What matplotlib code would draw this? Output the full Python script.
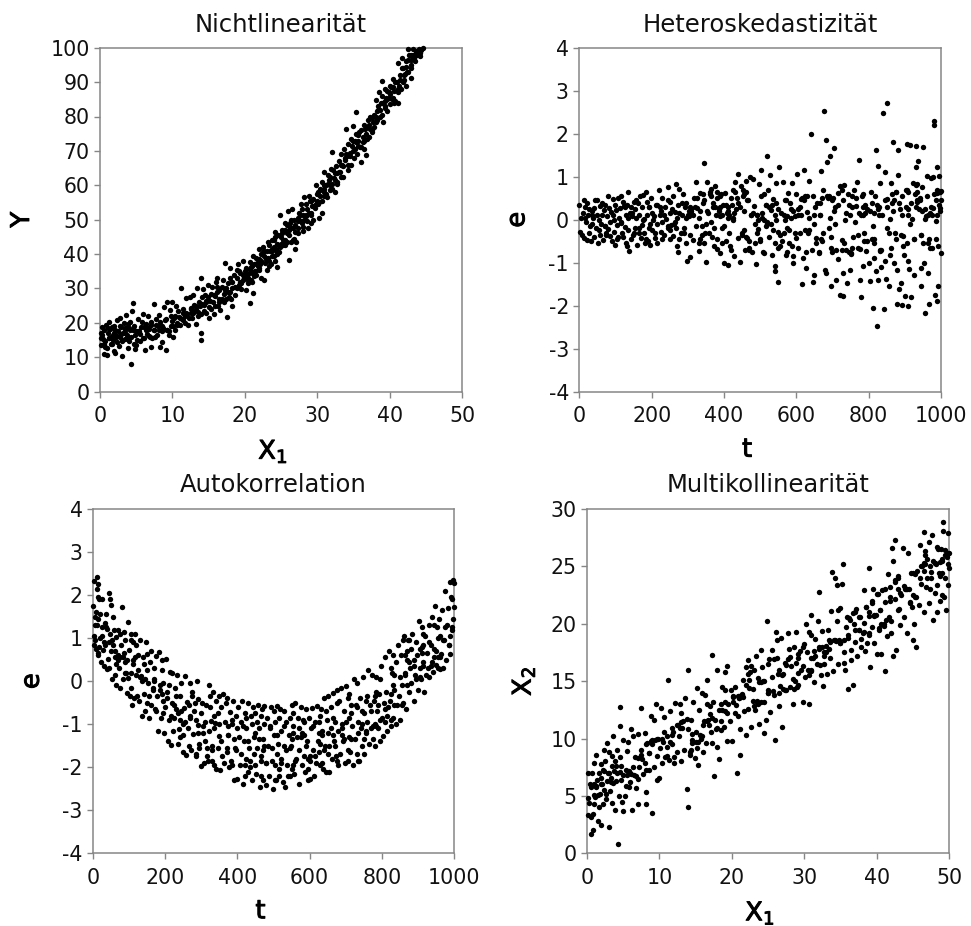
import matplotlib
matplotlib.use("Agg")
import matplotlib.pyplot as plt
import matplotlib.patheffects as pe

W, H = 971, 926
GRAY = "#868686"

# Nichtlinearitaet
nl_x = [0.1,0.2,0.3,0.4,0.5,0.6,0.7,0.8,0.9,1.0,1.1,1.2,1.3,1.4,1.5,
        1.6,1.7,1.8,1.9,2.0,2.1,2.2,2.3,2.4,2.5,2.6,2.7,2.8,2.9,3.0,
        3.1,3.2,3.3,3.4,3.5,3.6,3.7,3.8,3.9,4.0,4.1,4.2,4.3,4.4,4.5,
        4.6,4.7,4.8,4.9,5.0,5.2,5.4,5.5,5.7,5.8,6.0,6.1,6.2,6.4,6.5,
        6.6,6.8,7.0,7.1,7.2,7.4,7.5,7.6,7.8,8.0,8.2,8.3,8.5,8.6,8.8,
        9.0,9.1,9.2,9.3,9.5,9.6,9.8,10.0,10.1,10.2,10.3,10.5,10.6,10.8,11.0,
        11.2,11.3,11.5,11.7,11.9,12.0,12.2,12.4,12.5,12.7,12.9,13.0,13.2,13.4,13.5,
        13.7,13.9,13.9,13.9,14.0,14.2,14.4,14.5,14.7,14.9,15.0,15.2,15.3,15.5,15.7,
        15.9,16.0,16.2,16.3,16.5,16.6,16.8,17.0,17.1,17.3,17.4,17.6,17.7,17.9,18.0,
        18.2,18.3,18.5,18.7,18.9,19.0,19.2,19.4,19.5,19.7,19.9,20.0,20.2,20.4,20.5,
        20.7,20.7,20.9,21.0,21.1,21.2,21.4,21.5,21.7,21.9,22.0,22.2,22.3,22.5,22.7,
        22.9,23.0,23.2,23.4,23.5,23.6,23.8,24.0,24.1,24.2,24.4,24.5,24.7,24.8,25.0,
        25.1,25.3,25.5,25.6,25.8,26.0,26.1,26.3,26.5,26.6,26.8,27.0,27.1,27.3,27.5,
        27.7,27.9,28.0,28.2,28.4,28.6,28.7,28.9,29.1,29.2,29.4,29.6,29.8,30.0,30.1,
        30.3,30.4,30.6,30.7,30.9,31.0,31.2,31.4,31.5,31.7,31.9,32.0,32.1,32.3,32.5,
        32.6,32.8,33.0,33.2,33.3,33.5,33.7,33.9,34.0,34.2,34.3,34.5,34.7,34.9,35.0,
        35.2,35.3,35.4,35.5,35.7,35.9,36.0,36.1,36.3,36.5,36.7,36.8,37.0,37.2,37.3,
        37.5,37.7,37.9,38.1,38.2,38.4,38.5,38.7,38.9,39.0,39.1,39.3,39.4,39.5,39.7,
        39.9,40.0,40.1,40.3,40.5,40.6,40.8,41.0,41.1,41.2,41.4,41.6,41.7,41.9,42.0,
        42.2,42.3,42.5,42.6,42.7,42.9,43.0,43.2,43.4,43.6,43.8,44.0,44.2,44.4,44.6,
        0.3,0.7,1.1,1.5,1.9,2.3,2.7,3.1,3.5,3.9,4.3,4.7,5.1,5.5,5.9,
        6.3,6.7,7.1,7.5,7.9,8.3,8.7,9.1,9.5,9.9,10.3,10.7,11.1,11.5,11.9,
        12.3,12.6,12.9,13.2,13.5,13.8,14.1,14.4,14.7,15.0,15.3,15.6,15.9,16.2,16.5,
        16.8,17.1,17.4,17.7,18.0,18.3,18.6,18.9,19.2,19.5,19.8,20.1,20.4,20.7,21.0,
        21.3,21.6,21.9,22.2,22.5,22.8,23.1,23.4,23.7,24.0,24.3,24.6,24.9,25.2,25.5,
        25.8,26.1,26.4,26.7,27.0,27.3,27.6,27.9,28.2,28.5,28.8,29.1,29.4,29.7,30.0,
        30.3,30.6,30.9,31.2,31.5,31.8,32.1,32.4,32.7,33.0,33.3,33.6,33.9,34.2,34.5,
        34.8,35.1,35.4,35.7,36.0,36.3,36.6,36.9,37.2,37.5,37.8,38.1,38.4,38.7,39.0,
        39.3,39.6,39.9,40.2,40.5,40.8,41.1,41.4,41.7,42.0,42.3,42.6,42.9,43.2,43.5,
        0.5,1.3,2.1,2.9,3.7,4.5,5.3,6.1,6.9,7.7,8.5,9.3,10.1,10.9,11.7,
        12.5,13.3,14.1,14.9,15.7,16.5,17.3,18.1,18.9,19.7,20.5,21.3,22.1,22.9,23.7,
        24.5,25.3,26.1,26.9,27.7,28.5,29.3,30.1,30.9,31.7,32.5,33.3,34.1,34.9,35.7,
        36.5,37.3,38.1,38.9,39.7,40.5,41.3,42.1,42.9,20.2,21.8,23.3,24.2,26.4,28.1,
        20.8,21.4,22.0,22.6,23.2,23.8,24.4,25.0,25.6,26.2,26.8,27.4,28.0,28.6,29.2,
        29.8,30.4,31.0,31.6,32.2,32.8,33.4,34.0,34.6,35.2,35.8,36.4,37.0,37.6,38.2,
        38.8,39.4,40.0,40.6,41.2,41.8,42.4,43.0,43.6,44.2,0.2,1.8,3.4,5.0,6.6,
        8.2,9.8,11.4,13.0,14.6,16.2,17.8,19.4,21.0,22.6,24.2,25.8,27.4,29.0,30.6]
nl_y = [13.5,15.5,18.8,15.2,11.0,17.8,13.0,19.5,10.8,12.8,17.0,20.3,15.5,18.2,16.0,
        14.0,18.8,16.5,11.8,19.0,11.3,15.8,20.8,14.5,17.5,13.3,21.3,16.0,18.8,14.8,
        10.5,17.2,20.0,15.2,18.4,22.2,16.6,12.7,19.8,14.8,17.8,20.2,8.0,23.5,25.7,
        18.0,14.0,12.5,16.5,13.5,21.0,17.6,14.6,18.8,20.2,22.5,15.5,12.2,19.8,16.8,
        22.0,18.2,13.0,20.2,15.5,17.8,25.5,16.0,21.0,19.0,22.3,13.0,14.5,17.6,24.6,
        20.8,12.1,18.0,26.2,16.5,23.8,19.0,26.0,16.0,21.5,18.0,25.0,20.0,23.5,19.5,
        30.1,21.0,24.0,20.0,27.2,22.5,19.5,27.5,24.2,21.5,28.2,25.2,19.8,30.0,23.2,
        26.0,15.0,17.2,33.0,22.5,29.8,25.2,28.0,23.0,31.0,21.5,26.5,24.0,30.5,22.5,
        27.8,31.8,33.0,25.0,29.5,23.8,27.0,32.5,26.0,37.5,30.0,21.8,29.0,33.0,36.0,
        24.8,30.2,33.8,28.0,35.5,37.0,31.0,34.6,29.8,38.0,33.0,35.0,29.5,34.2,31.5,
        37.8,25.8,36.3,32.0,28.8,39.5,35.0,33.8,37.5,41.5,36.0,40.0,33.0,42.0,32.5,
        39.0,35.5,43.5,38.0,41.0,37.0,44.0,39.5,42.0,46.5,40.5,36.3,40.5,51.5,43.0,
        47.0,44.0,49.0,42.5,46.0,52.5,38.3,48.0,53.0,44.0,50.0,41.5,43.5,47.5,52.0,
        54.5,49.0,46.8,56.5,51.0,53.0,47.5,57.0,52.0,55.3,50.0,54.0,60.0,55.5,58.0,
        50.5,59.0,52.0,61.0,57.0,64.0,60.0,56.5,63.0,58.5,64.8,60.5,69.7,62.0,58.0,
        65.5,61.0,67.0,64.0,69.0,65.5,70.5,67.5,76.5,64.5,72.0,68.5,66.0,73.0,77.2,
        70.5,75.0,81.3,69.0,73.0,71.0,66.8,76.0,72.5,77.5,68.8,75.0,79.0,74.0,80.0,
        76.0,78.5,80.5,84.8,79.0,82.0,87.0,80.0,90.2,84.0,78.5,83.0,88.0,85.5,81.5,
        87.0,83.5,89.0,85.0,91.0,87.5,84.5,90.0,83.9,95.5,92.0,88.0,97.0,94.0,90.5,
        89.0,96.0,99.5,93.0,98.0,91.3,95.0,99.7,97.0,99.0,97.8,99.5,97.5,99.2,99.8,
        16.5,14.8,18.5,13.8,17.2,16.2,19.0,15.0,17.0,18.8,15.8,19.2,15.0,16.8,15.5,
        17.8,16.2,19.5,18.0,16.5,20.2,18.5,21.0,17.5,20.5,22.0,19.5,21.5,20.8,23.0,
        21.5,24.0,22.8,25.0,22.0,24.8,27.5,23.5,26.5,24.5,28.5,26.0,25.0,29.0,27.0,
        30.5,28.5,27.0,31.5,29.0,32.0,30.5,33.0,35.0,31.5,34.0,36.0,33.0,35.5,34.5,
        37.0,39.0,35.5,38.0,40.5,37.5,41.0,42.5,39.5,44.0,41.5,45.5,42.0,46.0,44.0,
        48.5,45.5,50.0,47.5,46.5,49.5,51.5,53.0,50.0,54.5,52.0,49.0,56.0,53.5,57.5,
        55.0,58.5,60.0,57.5,60.5,62.5,59.0,63.5,60.5,64.0,66.0,62.5,68.0,66.0,69.5,
        71.5,68.0,72.5,74.5,71.0,74.0,76.5,73.5,77.5,79.5,77.0,80.0,83.0,82.0,86.0,
        84.5,87.5,85.5,88.5,85.5,90.0,87.0,90.5,94.0,92.0,94.5,96.5,94.0,98.0,96.0,
        14.0,15.5,18.0,16.8,15.5,18.5,17.5,18.8,15.8,19.5,19.0,18.0,19.0,21.8,22.0,
        23.0,24.0,25.5,27.5,28.0,26.0,29.5,27.0,30.0,32.5,32.5,33.5,37.0,38.5,41.5,
        43.0,42.5,47.0,48.5,49.5,51.5,54.0,54.5,58.0,60.0,61.5,62.5,68.5,70.0,71.5,
        73.0,76.5,78.5,80.5,85.0,88.5,89.0,92.5,96.5,33.5,36.5,36.5,38.0,43.5,48.0,
        32.5,35.0,38.5,41.0,38.8,41.0,40.0,45.0,47.0,49.0,44.5,46.0,51.5,49.5,51.5,
        54.5,57.0,59.0,61.5,64.5,63.5,66.0,69.0,73.5,73.0,75.5,70.5,77.0,75.5,81.5,
        84.0,82.5,86.5,84.0,88.0,90.0,93.0,98.0,98.5,98.5,17.0,15.0,18.0,17.5,18.5,
        17.8,22.0,23.0,23.5,26.0,30.5,27.5,32.0,36.5,39.5,45.0,43.5,50.5,55.5,55.5]

# Heteroskedastizitaet
he_t = [0,3,5,8,10,12,14,16,18,20,22,24,26,28,30,
        32,34,36,38,40,42,44,46,48,50,52,54,56,58,60,
        62,64,66,68,70,72,74,76,78,80,82,84,86,88,90,
        92,94,96,98,100,102,104,106,108,110,112,114,116,118,120,
        122,124,126,128,130,132,134,136,138,140,142,144,146,148,150,
        152,154,156,158,160,162,164,166,168,170,172,174,176,178,180,
        182,184,186,188,190,192,194,196,198,200,202,206,208,212,216,
        220,224,226,230,234,238,240,244,246,250,254,258,260,264,268,
        270,272,274,276,280,284,288,290,294,296,298,304,305,310,314,
        318,322,324,326,330,334,338,342,345,346,350,352,354,358,362,
        365,368,370,372,375,378,380,382,385,388,390,392,395,398,400,
        402,405,408,410,412,415,418,420,424,428,430,434,438,440,443,
        446,450,452,455,458,460,463,466,470,472,475,478,480,484,488,
        490,494,496,500,503,506,510,512,515,518,520,522,525,528,530,
        533,536,540,542,545,548,550,551,555,558,562,565,568,572,575,
        578,580,584,588,590,592,595,598,600,603,606,610,612,615,618,
        620,624,627,630,633,636,640,642,645,648,650,654,658,662,665,
        668,672,675,677,680,681,683,684,688,690,693,695,698,700,705,
        708,710,714,716,720,722,725,728,730,733,736,738,741,745,748,
        750,753,756,760,763,766,768,770,773,775,778,780,783,785,788,
        790,793,796,800,803,806,808,812,814,816,818,820,820,824,825,
        826,828,830,832,835,838,840,842,845,847,850,852,855,858,860,
        862,865,868,870,872,875,877,878,880,882,885,888,890,891,893,
        895,898,900,902,905,908,908,910,912,915,917,918,920,922,924,
        926,928,930,932,935,937,940,942,944,946,948,950,952,955,958,
        960,962,964,967,970,972,975,977,978,980,981,983,985,986,988,
        988,990,991,993,995,997,998,999,1000,1000,966,956,946,934,996,
        205,215,225,235,245,255,265,275,285,295,305,315,325,335,345,
        355,365,375,385,395,405,415,425,435,445,455,465,475,485,495,
        505,515,525,535,545,555,565,575,585,595,605,615,625,635,645,
        655,665,675,685,695,705,715,725,735,745,755,765,775,785,795,
        805,815,825,835,845,855,865,875,885,895,905,915,925,935,945,
        955,965,975,985,995,210,230,250,270,290,310,330,350,370,390,
        410,430,450,470,490,510,530,550,570,590,610,630,650,670,690,
        710,730,750,770,790,810,830,850,870,890,910,930,950,970,990,
        15,35,55,75,95,115,135,155,175,195,105,125,145,165,185,
        300,320,340,360,380,400,420,440,460,480,500,520,540,560,580,
        215,245,275,305,335,365,395,425,455,485,515,545,575,605,635,
        665,695,725,755,785,815,845,875,905,935,965,995,222,262,302,
        342,382,422,462,502,542,582,622,662,702,742,782,822,862,902,
        942,982,228,268,308,348,388,428,468,508,548,588,628,668,708,
        748,788,828,868,908,948,988,252,292,332,372,412,452,492,532,
        572,612,652,692,732,772,812,852,892,932,972,72,132,192,252]
he_e = [.35,-.28,.05,-.35,.15,.45,-.42,.3,-.05,.38,-.48,.1,-.3,.25,-.15,
        -.5,.2,-.1,.05,-.4,.28,.46,-.2,.12,.45,-.55,0,.32,-.35,-.1,
        .1,.4,-.48,.22,-.15,.35,-.3,.08,.55,-.22,.28,-.05,-.38,.18,-.5,
        .48,.1,-.28,.35,-.58,.22,-.12,.5,-.4,.05,.28,-.08,.55,-.32,.42,
        -.4,.32,-.18,.1,-.55,.35,.65,-.25,-.72,.15,-.45,.3,.08,-.35,.42,
        -.3,.25,.45,.05,-.58,.38,-.2,.1,.55,-.42,-.12,.3,.58,-.3,.02,
        -.55,.65,.12,.42,-.5,-.2,.3,-.58,.5,.15,-.25,.08,-.42,.35,-.55,
        .7,.1,-.28,.5,-.35,.3,.02,-.2,.75,.42,-.12,.55,-.38,.18,.82,
        -.62,.35,-.75,.72,-.3,.1,.6,-.2,-.55,.4,-.95,.08,-.87,.25,-.48,
        .5,-.15,.88,.28,-.72,.62,-.35,.4,-.55,1.32,-.98,.88,.2,-.3,.65,
        .72,-.4,.3,-.6,.78,.1,-.68,.5,.25,-.78,.08,.6,-.2,.35,-1.0,
        .62,-.5,.15,.3,-1.05,-.3,-.6,.5,.05,-.85,.88,.25,-.42,1.07,-.98,
        .78,-.3,.55,.2,-.7,.9,-.42,.45,-.65,1.0,.1,-.75,.95,.32,-1.02,
        .12,-.22,.82,-.5,1.15,.05,.6,-.78,.35,-.1,1.47,.68,-.4,1.05,.22,
        -.82,.48,-1.2,-1.07,.85,-.28,-1.45,1.23,-.62,.15,.88,-.3,.45,-.82,.08,
        .62,-.55,.25,.85,-.85,-1.0,.08,-.42,.6,1.07,-.65,.3,.48,-1.49,-.88,
        1.15,.55,-1.12,.18,-.3,.9,2.0,-.7,-1.45,-1.28,.1,-.42,.4,-.78,.12,
        1.13,-.5,.68,2.52,-1.16,1.86,-1.25,1.35,.5,-.2,1.48,-1.55,.45,-.75,1.67,
        .3,-1.4,.62,-.92,-1.75,.78,-.48,-1.78,-1.24,.8,.15,-.7,-1.48,.35,-1.18,
        -.78,.55,-.4,.7,-.05,.32,.88,-.66,1.4,-1.4,.12,-1.8,.6,-1.08,-.5,
        .35,-.72,.25,-1.0,-1.42,.65,-.45,-2.05,.15,-.9,.55,1.61,-1.2,-2.48,-1.4,
        1.24,.3,-.7,.85,-1.1,.1,2.48,-2.08,1.1,-1.38,2.72,.48,-1.54,.02,-.82,
        .85,.4,1.81,-1.0,-.3,.65,-1.95,-1.16,1.62,1.05,-1.6,.25,-1.47,-1.98,.55,
        -.38,-.82,-1.77,.7,1.75,-2.0,.1,-.95,-1.14,1.73,-1.79,.4,.02,.85,-1.28,
        -.45,.6,1.23,1.71,.82,1.36,.25,.5,-1.13,-1.55,.75,1.68,-1.0,-2.18,.08,
        1.02,.55,-1.24,-1.97,.15,.98,-.65,.28,1.0,2.3,2.2,-1.75,.45,-.02,1.23,
        -1.88,.62,-1.54,-.6,1.02,.65,.28,-.78,.45,.66,-.45,.02,-.35,.42,.2,
        .0,-.1,.2,.1,-.15,.25,-.05,.15,.4,.05,.3,.1,.5,.2,.45,
        .15,-.05,.3,.2,.1,.35,.1,.0,.5,.3,-.25,.45,.1,-.1,.0,
        .15,-.15,.3,-.25,.0,-.35,.1,-.2,.05,-.3,.25,.5,-.25,.05,.55,
        -.55,.4,-.3,.55,-.4,.2,.35,-.7,.0,-.75,.3,.5,-.68,.1,-.5,
        .2,-.45,.25,-.7,.45,-.3,.6,-.45,.4,-.6,.7,-.1,-.45,.45,-.35,
        .25,.1,.1,-.45,.65,-.3,-.05,-.25,.05,-.3,.2,.05,-.1,.4,.3,
        .2,.65,-.35,-.7,.1,.0,-.1,-.65,.0,.2,-.3,.55,-.1,.5,.55,
        -.7,.45,-.8,-.35,.15,.4,-.72,-.2,.45,-.35,.65,.8,-.55,-.65,.7,
        .05,.1,-.25,-.35,.0,-.05,.05,-.2,.0,-.1,-.45,.3,.15,-.3,-.45,
        .1,.3,-.15,.6,.65,-.15,-.7,.4,-.4,.15,-.45,-.05,.1,-.5,-.25,
        .35,.45,-.45,-.35,-.45,.55,-.55,.7,.6,-.55,.35,.4,-.75,.1,-.25,
        .1,-.65,.7,-.65,.3,-.55,-.95,.65,-.55,.65,-.55,.35,.3,-.1,.2,
        .6,-.45,.35,.65,.55,-.55,.4,.45,-.75,.5,.6,.55,.35,-.65,.3,
        .45,.6,-.45,-.2,.15,-.3,.55,.15,-.5,-.75,.25,-.6,-.75,-.45,-.1,
        .1,-.3,.1,.2,.25,.2,.1,.15,.3,-.55,-.2,.05,.7,-.3,.35,
        .45,.1,.3,.05,-.55,.15,-.15,.3,.1,.3,.3,-.15,-.6,.3,-.45]

# Autokorrelation
au_t = [0,2,3,4,5,6,8,9,10,12,13,14,15,16,18,
        20,22,24,26,28,30,32,34,35,38,40,42,44,45,46,
        48,50,52,54,55,58,60,62,64,65,68,70,72,74,75,
        78,80,82,84,86,88,90,92,94,96,98,100,102,104,106,
        108,110,112,114,116,118,120,122,125,128,130,132,135,138,140,
        142,145,148,150,152,155,158,160,162,165,168,170,172,175,178,
        180,182,185,188,190,192,195,198,200,202,205,208,210,212,215,
        218,220,222,225,228,230,232,235,238,240,242,245,248,250,252,
        255,258,260,262,265,268,270,272,275,278,280,282,285,288,290,
        292,295,298,300,302,305,308,310,312,315,318,320,322,325,328,
        330,332,335,338,340,342,345,348,350,352,355,358,360,362,365,
        368,370,372,375,378,380,382,385,388,390,392,395,398,400,402,
        405,408,410,412,415,418,420,422,425,428,430,432,435,438,440,
        442,445,448,450,452,455,458,460,462,465,468,470,472,475,478,
        480,482,485,488,490,492,495,498,500,502,505,508,510,512,515,
        518,520,522,525,528,530,532,535,538,540,542,545,548,550,552,
        555,558,560,562,565,568,570,572,575,578,580,582,585,588,590,
        592,595,598,600,602,605,608,610,612,615,618,620,622,625,628,
        630,632,635,638,640,642,645,648,650,652,655,658,660,662,665,
        668,670,672,675,678,680,682,685,688,690,692,695,698,700,702,
        705,708,710,712,715,718,720,722,725,728,730,732,735,738,740,
        742,745,748,750,752,755,758,760,762,765,768,770,772,775,778,
        780,782,785,788,790,792,795,798,800,802,805,808,810,812,815,
        818,820,822,825,828,830,832,835,838,840,842,845,848,850,852,
        855,858,860,862,865,868,870,872,875,878,880,882,885,888,890,
        892,895,898,900,902,905,908,910,912,915,918,920,922,925,928,
        930,932,935,938,940,942,945,948,950,952,955,958,960,962,965,
        968,970,972,975,978,980,982,985,988,990,992,995,997,998,1000,
        10,30,50,70,90,110,130,150,170,190,210,230,250,270,290,
        310,330,350,370,390,410,430,450,470,490,510,530,550,570,590,
        610,630,650,670,690,710,730,750,770,790,810,830,850,870,890,
        910,930,950,970,990,15,55,95,135,175,215,255,295,335,375,
        415,455,495,535,575,615,655,695,735,775,815,855,895,935,975,
        25,65,105,145,185,225,265,305,345,385,425,465,505,545,585,
        625,665,705,745,785,825,865,905,945,985,5,115,205,325,445,
        475,515,555,595,635,675,715,755,795,835,875,915,955,995,285,
        35,75,125,165,195,235,275,315,355,395,435,475,515,555,595,
        635,675,715,755,795,835,875,915,955,995,45,85,155,245,335,
        385,425,465,505,545,585,625,665,705,745,785,825,865,905,945,
        15,60,105,150,195,240,285,330,375,420,465,510,555,600,645,
        690,735,780,825,870,915,960,1000,20,440,460,480,520,560,640]
au_e = [1.75,2.32,1.05,.85,1.48,.95,1.6,.75,2.15,2.42,1.95,.6,2.25,1.9,.8,
        1.55,.45,1.92,1.25,.72,.35,1.35,.85,1.55,.28,1.22,.52,2.05,.3,1.9,
        1.1,1.78,.95,.05,1.5,1.2,.7,.15,1.02,-.1,1.18,.6,.3,1.1,-.15,
        .85,1.72,.05,.55,1.15,.2,.95,.18,-.28,1.38,.08,.72,-.35,1.1,.2,
        -.55,.9,.4,-.4,1.1,.15,.85,-.35,.6,-.45,.95,.12,-.8,.55,-.3,
        .4,-.7,.9,.62,-.05,-.85,.45,.7,-.55,-.15,.3,.05,-.65,.58,-.35,
        -1.15,.68,-.2,-.85,.25,.5,-.45,-1.2,-.6,.52,-.25,-1.38,-.9,.22,-1.48,
        -.5,.2,-1.15,-.85,-.15,-.65,.15,-1.45,-1.12,-.35,-.9,-.05,-1.65,-1.25,-.62,
        .12,-1.72,-.48,-1.1,-1.5,-.85,-.05,-1.6,-.35,-1.22,-.7,-.5,-1.75,.0,-1.02,
        -.42,-1.45,-1.98,-.75,-.5,-1.2,-1.9,-.95,-.55,-1.55,-1.85,-.1,-1.15,-.6,-.92,
        -1.6,-.25,-1.95,-.98,-.45,-2.05,-.75,-1.28,-.35,-2.07,-.6,-1.75,-.3,-1.9,-.95,
        -.5,-1.65,-.38,-1.25,-2.0,-.72,-1.85,-1.0,-.45,-2.3,-1.55,-.8,-1.1,-2.28,-.6,
        -1.3,-1.95,-.95,-.45,-2.4,-1.4,-.75,-1.95,-1.1,-2.1,-.5,-1.55,-1.85,-.8,-2.3,
        -.6,-1.3,-1.95,-.75,-2.15,-1.55,-.55,-1.1,-2.45,-1.75,-.65,-2.3,-1.35,-.58,-1.9,
        -2.42,-.85,-1.5,-2.2,-1.05,-.6,-1.85,-2.5,-1.25,-.7,-1.95,-2.3,-.58,-1.45,-2.05,
        -.65,-1.15,-1.8,-2.35,-.7,-1.5,-2.45,-.95,-1.95,-2.2,-1.25,-.85,-1.5,-2.05,-.55,
        -1.05,-2.15,-.5,-1.8,-1.3,-.85,-2.38,-1.6,-.6,-1.95,-1.2,-.9,-1.75,-2.1,-.65,
        -1.4,-2.3,-.85,-1.85,-2.28,-1.1,-.62,-1.6,-2.2,-.95,-1.9,-.58,-1.4,-1.2,-.8,
        -1.95,-.65,-1.25,-2.05,-.4,-1.5,-2.1,-.9,-1.7,-.35,-2.12,-1.1,-.6,-1.8,-.28,
        -1.4,-.95,-1.75,-.2,-1.15,-1.95,-.45,-1.7,-.15,-1.1,-1.4,-.7,-1.9,-.95,-.12,
        -1.85,-1.3,-.3,-1.65,-.75,-1.05,-1.95,.05,-1.35,-.55,-1.7,-.05,-.95,-1.85,-.4,
        -1.1,-1.5,.1,-.75,-1.7,-1.2,-.35,-.95,.25,-1.45,-.55,-1.1,.15,-1.35,-.45,
        -1.0,-1.5,.1,-.7,-1.1,-.3,-1.4,.35,-.85,-1.28,-.5,.55,-.95,-.25,-1.15,
        -.6,.7,-.45,-1.05,.2,-.85,.6,-.2,-1.0,.45,-.55,.85,-.35,-.9,.6,
        -.1,.95,-.5,1.05,.15,-.65,.5,.95,-.25,.3,.75,-.05,1.1,.5,-.45,
        .15,.9,.6,-.2,1.4,.3,.05,.8,1.25,.45,-.25,1.05,.15,.65,.3,
        1.3,.1,.85,.45,1.5,.22,.75,1.75,.38,1.25,.55,1.45,.28,1.05,.62,
        1.65,.3,.95,2.1,.5,1.3,1.7,.85,2.3,.62,1.95,1.2,2.35,1.45,1.72,
        1.3,.9,.7,.5,.45,.5,.1,-.5,.0,-.3,-.1,-.35,-1.0,-.8,-1.2,
        -1.4,-1.5,-1.0,-1.55,-1.35,-1.7,-1.4,-1.2,-1.6,-1.1,-1.7,-1.05,-1.35,-1.1,-1.5,
        -1.05,-1.45,-1.2,-1.5,-1.0,-.85,-.6,-1.35,-.7,-.55,-.65,-.1,.1,-.1,.35,
        .65,.9,.7,.95,1.05,1.45,.85,.5,.0,-.7,-.8,-.95,-1.55,-1.1,-1.25,
        -1.05,-.95,-1.55,-1.6,-1.3,-1.75,-1.5,-1.35,-1.2,-1.05,-.8,-.55,.05,.35,1.25,
        1.05,.4,.95,.05,-.1,-.55,-.55,-1.05,-1.55,-1.95,-1.8,-1.85,-.95,-1.55,-.95,
        -.95,-.85,-1.6,-.7,-1.05,.3,.6,.1,1.3,.85,1.3,.55,-.4,-.35,-1.7,
        -1.0,-.85,-1.95,-1.8,-1.15,-.5,-1.35,-.45,.05,-.55,.95,1.1,.3,1.9,-.9,
        1.25,.55,.25,-.2,-.05,-.75,-.25,-1.75,-1.4,-1.6,-2.0,-1.5,-2.2,-.75,-2.05,
        -1.9,-1.85,-.55,-1.15,-.9,.15,.45,.35,1.0,1.25,.9,.65,-.35,-.7,-.8,
        -.9,-.85,-.8,-2.3,-2.2,-1.25,-1.65,-1.25,-.4,-1.0,-.25,-.9,.2,.75,.55,
        .65,.55,-.15,.25,-.75,-1.3,-1.7,-1.85,-1.05,-2.2,-2.2,-1.25,-1.2,-1.75,-.7,
        -1.25,-1.85,-.35,-.3,.7,.85,.55,2.28,1.0,-1.0,-1.35,-1.9,-1.9,-1.85,-1.6]

# Multikollinearitaet
mu_x = [0.1,0.2,0.2,0.3,0.4,0.5,0.6,0.7,0.8,0.8,0.9,1.0,1.1,1.2,1.3,
        1.4,1.5,1.6,1.7,1.8,1.9,2.0,2.1,2.2,2.3,2.4,2.5,2.6,2.7,2.8,
        2.9,3.0,3.1,3.2,3.3,3.4,3.5,3.6,3.7,3.8,3.9,4.0,4.1,4.2,4.3,
        4.4,4.5,4.6,4.7,4.8,5.0,5.0,5.2,5.4,5.5,5.7,5.8,6.0,6.1,6.2,
        6.4,6.5,6.6,6.8,7.0,7.0,7.2,7.4,7.5,7.6,7.8,8.0,8.1,8.2,8.3,
        8.5,8.6,8.8,9.0,9.0,9.2,9.3,9.5,9.6,9.8,10.0,10.1,10.2,10.3,10.5,
        10.6,10.8,11.0,11.2,11.3,11.5,11.7,11.9,12.0,12.2,12.4,12.5,12.7,12.9,13.0,
        13.2,13.4,13.5,13.8,13.9,13.9,14.0,14.2,14.4,14.5,14.7,14.9,15.0,15.2,15.3,
        15.5,15.7,15.9,16.0,16.2,16.3,16.5,16.6,16.8,17.0,17.1,17.3,17.4,17.6,17.7,
        17.9,18.0,18.2,18.3,18.5,18.7,18.9,19.0,19.3,19.4,19.5,19.7,19.9,20.0,20.2,
        20.4,20.5,20.7,20.9,21.0,21.1,21.2,21.4,21.5,21.7,21.9,22.0,22.2,22.3,22.5,
        22.7,22.9,23.0,23.2,23.4,23.5,23.6,23.8,24.0,24.1,24.2,24.4,24.5,24.7,24.8,
        25.0,25.1,25.3,25.5,25.6,25.8,26.0,26.1,26.3,26.5,26.6,26.8,27.0,27.1,27.3,
        27.5,27.7,27.9,28.0,28.2,28.5,28.6,28.7,28.9,29.1,29.2,29.4,29.6,29.9,30.0,
        30.1,30.3,30.4,30.6,30.7,30.9,31.0,31.2,31.4,31.5,31.7,31.9,32.0,32.1,32.3,
        32.5,32.6,32.8,33.0,33.2,33.3,33.5,33.7,33.9,34.0,34.2,34.3,34.5,34.7,34.9,
        35.0,35.2,35.4,35.5,35.7,35.9,36.0,36.1,36.3,36.5,36.7,36.8,37.0,37.2,37.3,
        37.5,37.7,37.9,38.1,38.2,38.4,38.5,38.7,38.9,39.0,39.1,39.3,39.4,39.5,39.7,
        39.9,40.0,40.1,40.3,40.5,40.6,40.8,41.0,41.1,41.2,41.4,41.6,41.7,41.9,42.0,
        42.1,42.2,42.3,42.5,42.5,42.7,42.9,43.0,43.2,43.4,43.6,43.8,44.0,44.2,44.4,
        44.6,44.8,45.0,45.1,45.3,45.5,45.6,45.8,46.0,46.1,46.3,46.5,46.5,46.7,46.8,
        47.0,47.2,47.3,47.5,47.7,47.8,48.0,48.1,48.3,48.4,48.6,48.8,48.9,49.0,49.2,
        49.2,49.3,49.4,49.5,49.6,49.7,49.8,49.9,49.9,50.0,50.0,49.1,48.2,47.4,46.2,
        0.5,1.2,1.9,2.6,3.3,4.0,4.7,5.4,6.1,6.8,7.5,8.2,8.9,9.6,10.3,
        11.0,11.7,12.4,13.1,13.8,14.5,15.2,15.9,16.6,17.3,18.0,18.7,19.4,20.1,20.8,
        21.5,22.2,22.9,23.6,24.3,25.0,25.7,26.4,27.1,27.8,28.5,29.2,29.9,30.6,31.3,
        32.0,32.7,33.4,34.1,34.8,35.5,36.2,36.9,37.6,38.3,39.0,39.7,40.4,41.1,41.8,
        42.5,43.2,43.9,44.6,45.3,46.0,46.7,47.4,48.1,48.8,49.5,1.5,3.0,4.5,6.0,
        7.0,9.0,11.0,13.0,15.0,17.0,19.0,21.0,23.0,25.0,27.0,29.0,31.0,33.0,35.0,
        37.0,39.0,41.0,43.0,45.0,47.0,49.0,2.0,5.5,8.5,12.0,14.5,16.0,18.5,22.0,
        24.5,26.5,28.0,30.5,32.5,34.5,36.5,38.5,40.5,42.5,44.5,46.5,48.5,49.8,21.0,
        1.0,2.2,3.4,4.6,5.8,7.0,8.2,9.4,10.6,11.8,13.0,14.2,15.4,16.6,17.8,
        19.0,20.2,21.4,22.6,23.8,25.0,26.2,27.4,28.6,29.8,31.0,32.2,33.4,34.6,35.8,
        37.0,38.2,39.4,40.6,41.8,43.0,44.2,45.4,46.6,47.8,49.0,0.9,2.4,3.6,5.0,
        6.4,8.0,9.7,11.4,12.8,14.3,15.6,17.2,19.0,20.6,22.4,24.0,25.8,27.5,29.2,
        31.0,32.8,34.4,36.1,37.8,39.6,41.3,43.1,44.9,46.7,48.4,49.7,38.9,40.2,43.8,
        21.1,18.5,16.7,22.4,23.5,26.5,28.8,31.5,33.5,35.5,37.5,42.0,45.0,47.5,48.8]
mu_y = [4.8,3.3,7.0,4.4,6.0,3.2,1.7,7.0,2.0,3.4,5.1,7.9,4.9,5.8,8.6,
        6.4,2.8,4.0,7.0,5.2,2.5,7.8,6.0,4.3,9.0,5.5,8.0,4.7,6.3,9.6,
        7.0,8.8,2.3,5.4,6.6,8.5,4.4,10.2,7.2,3.8,8.0,6.3,9.0,7.0,0.85,
        5.0,12.75,11.1,7.6,4.5,3.7,9.9,5.0,7.3,8.9,9.7,5.8,7.0,10.8,3.8,
        10.2,6.8,8.4,5.7,4.3,10.4,7.5,9.0,12.65,8.2,6.9,10.5,5.3,4.3,9.6,
        8.7,7.3,12.0,3.55,9.9,11.6,7.5,13.0,6.4,10.0,6.6,9.2,12.7,7.9,9.7,
        11.9,8.4,10.2,15.1,8.1,12.4,9.5,10.6,7.9,13.1,8.8,11.2,10.2,13.0,8.0,
        11.5,9.0,13.5,5.6,4.0,16.0,10.8,8.6,11.6,9.9,13.2,8.3,10.6,14.4,7.7,
        12.5,10.0,14.0,8.8,11.5,13.8,9.6,15.1,11.2,12.8,10.6,17.3,13.2,6.7,11.6,
        9.3,16.0,8.2,12.5,10.7,14.5,11.0,15.8,16.3,9.8,13.0,11.5,14.2,9.8,13.7,
        12.2,14.5,7.0,12.0,13.5,8.6,10.8,13.8,15.1,12.4,14.7,10.3,16.8,12.6,15.8,
        11.0,14.3,16.0,12.5,17.2,13.2,15.3,11.3,17.7,13.2,16.2,10.5,15.0,11.6,20.2,
        14.0,16.9,12.3,17.7,15.4,13.8,9.9,19.3,17.0,12.8,14.6,18.8,11.0,15.6,14.2,
        16.4,19.2,17.8,14.5,16.3,13.0,18.0,15.0,19.3,17.0,14.7,17.6,16.0,13.2,18.2,
        15.4,20.0,17.5,13.0,19.3,15.9,20.8,17.0,14.9,18.7,16.5,20.2,17.8,22.8,15.5,
        19.4,14.6,17.2,18.1,15.6,19.5,17.0,21.1,24.5,15.9,24.0,18.6,23.4,16.5,21.4,
        18.3,23.5,25.2,18.6,16.0,20.6,14.3,19.0,20.3,17.7,14.7,20.9,18.4,21.3,17.2,
        19.5,20.6,18.0,19.2,22.9,17.6,21.5,18.3,24.9,19.0,16.2,22.0,19.7,23.0,18.3,
        20.8,17.4,22.6,19.6,21.2,17.4,22.9,20.0,15.9,23.0,18.9,24.3,20.6,22.3,19.2,
        26.6,17.2,25.5,27.3,23.6,17.7,21.2,24.2,19.9,22.5,26.6,20.6,23.0,19.2,26.2,
        21.8,24.4,18.6,20.0,22.3,18.0,24.6,21.6,26.9,23.5,25.0,28.0,21.0,26.3,23.2,
        25.6,27.1,21.8,24.0,27.7,20.3,22.7,25.3,26.7,21.0,24.4,22.0,26.5,25.6,28.9,
        28.1,22.3,26.4,24.0,21.2,26.0,23.4,27.9,25.2,26.2,24.9,22.5,25.2,23.0,25.0,
        5.8,5.9,6.6,5.2,6.2,7.6,6.4,5.9,6.9,6.7,8.6,7.3,9.8,8.5,10.0,
        8.5,10.3,11.2,10.9,11.7,9.6,9.2,10.2,11.5,11.8,10.9,12.5,12.2,13.6,13.7,
        13.6,15.6,13.3,13.0,15.0,14.2,14.1,15.6,14.3,16.9,15.2,17.4,16.3,15.5,17.6,
        18.0,16.5,18.6,18.6,18.6,17.5,20.5,20.0,20.6,19.3,19.2,20.8,19.5,21.9,22.0,
        22.2,22.7,23.0,21.9,24.3,24.0,25.2,25.0,25.3,24.2,26.0,5.1,7.0,7.1,6.2,
        8.3,9.5,9.3,11.4,9.7,12.1,13.2,13.5,12.8,14.0,15.5,14.5,17.0,17.5,18.3,
        19.5,21.0,19.8,23.0,22.5,24.0,25.5,6.0,6.8,8.7,8.4,10.4,11.2,11.5,16.2,
        13.2,16.0,17.1,16.0,18.0,20.2,16.8,21.5,21.2,23.8,23.0,25.3,26.5,26.2,13.7,
        6.0,7.3,7.6,8.4,7.2,6.5,9.5,9.9,10.6,10.9,12.2,8.8,9.7,13.0,10.8,
        14.2,13.2,13.9,16.3,14.9,16.5,18.6,16.6,14.3,18.0,19.0,16.4,17.8,21.2,19.7,
        21.0,20.1,21.8,20.0,23.2,24.0,23.0,22.3,24.6,25.5,24.4,4.3,7.2,6.1,6.8,
        7.5,7.9,10.0,9.7,10.9,9.0,10.3,9.6,12.4,12.9,15.1,14.9,16.9,14.2,15.7,
        16.0,17.5,18.5,18.8,18.7,20.7,20.3,21.3,21.5,26.0,23.4,25.8,20.7,22.6,23.3,
        13.6,13.0,11.6,14.4,13.3,14.0,16.6,17.2,18.4,16.6,19.5,20.2,24.4,24.5,25.4]

# letzte Spalten: labelpad y, x-Position vom xlabel, pad vom Titel
PANELS = [
    ("Nichtlinearität", nl_x, nl_y, (100, 462, 47.7, 391.7), (0, 50), (0, 100),
     range(0, 51, 10), range(0, 101, 10), "X$_1$", "Y", 11, 0.478, 11),
    ("Heteroskedastizität", he_t, he_e, (579.3, 941, 47.7, 391.7), (0, 1000), (-4, 4),
     range(0, 1001, 200), range(-4, 5), "t", "e", 13, 0.464, 11),
    ("Autokorrelation", au_t, au_e, (93, 454, 509, 853.3), (0, 1000), (-4, 4),
     range(0, 1001, 200), range(-4, 5), "t", "e", 12.5, 0.464, 12.5),
    ("Multikollinearität", mu_x, mu_y, (587, 949, 509, 853.3), (0, 50), (0, 30),
     range(0, 51, 10), range(0, 31, 5), "X$_1$", "X$_2$", 9.5, 0.478, 12.5),
]

plt.rcParams["font.family"] = "DejaVu Sans"
plt.rcParams["mathtext.default"] = "regular"
plt.rcParams["axes.unicode_minus"] = False

fig = plt.figure(figsize=(W / 100, H / 100), dpi=100)
heavy = [pe.withStroke(linewidth=0.7, foreground="black")]

for title, xs, ys, box, xlim, ylim, xticks, yticks, xlabel, ylabel, ypad, xpos, tpad in PANELS:
    left, right, top, bottom = box
    ax = fig.add_axes([left / W, 1 - bottom / H, (right - left) / W, (bottom - top) / H])
    ax.scatter(xs, ys, s=15, color="black", linewidths=0, clip_on=False, zorder=3)
    ax.set_xlim(*xlim)
    ax.set_ylim(*ylim)
    ax.set_xticks(list(xticks))
    ax.set_yticks(list(yticks))
    ax.tick_params(direction="out", length=4.5, width=1.0, color=GRAY, labelsize=14.8,
                   labelcolor="#111111", top=False, right=False)
    ax.tick_params(axis="x", pad=6)
    ax.tick_params(axis="y", pad=3)
    for s in ax.spines.values():
        s.set_color(GRAY)
        s.set_linewidth(1.1)
    ax.set_title(title, fontsize=17.5, pad=tpad, color="#111111")
    xl = ax.set_xlabel(xlabel, fontsize=18.5, labelpad=7.5, x=xpos)
    yl = ax.set_ylabel(ylabel, fontsize=18.5, labelpad=ypad)
    xl.set_path_effects(heavy)
    yl.set_path_effects(heavy)

fig.savefig("out.png", dpi=100)
